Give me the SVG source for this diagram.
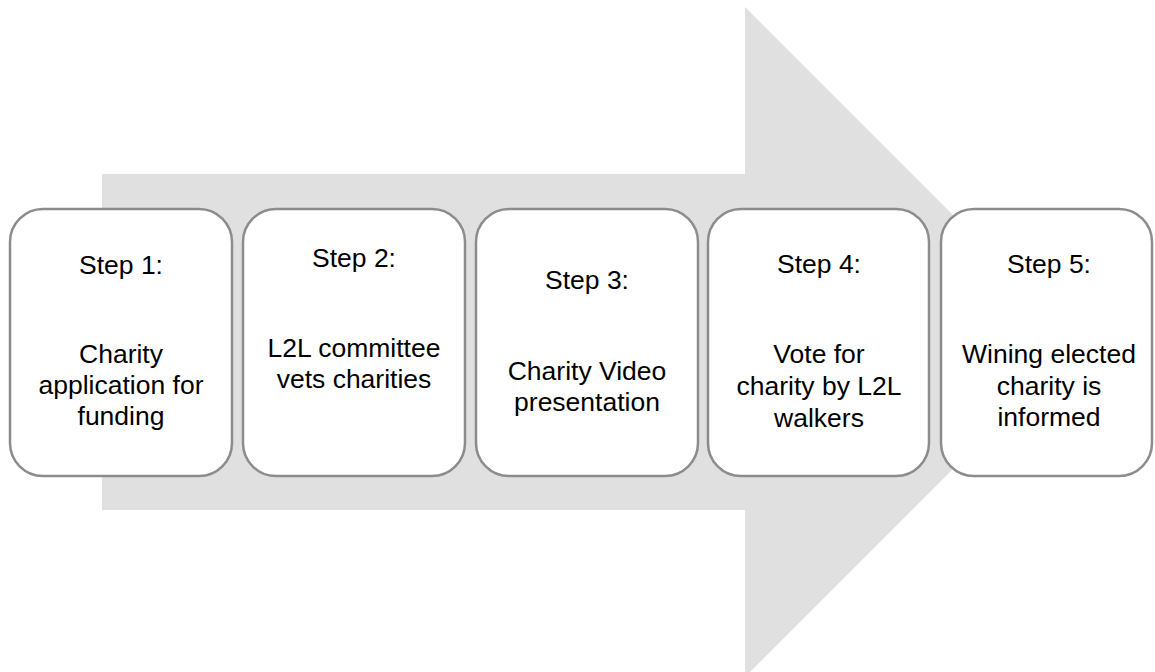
<svg xmlns="http://www.w3.org/2000/svg" width="1155" height="672" viewBox="0 0 1155 672">
<style>
.box{fill:#ffffff;stroke:#8c8c8c;stroke-width:2.5}
.t{font-family:"Liberation Sans",Arial,sans-serif;font-size:26.5px;fill:#000000;text-anchor:middle}
</style>
<rect width="1155" height="672" fill="#ffffff"/>
<g id="arrow">
<polygon points="102,174 745,174 745,7 1080,342 745,677 745,510 102,510" fill="#e0e0e0"/>
</g>
<g id="connectors"></g>
<g id="step1">
<rect class="box" x="10" y="209" width="222" height="267" rx="33" ry="33"/>
<text class="t" x="121" y="274">Step 1:</text>
<text class="t" x="121" y="363">Charity<tspan x="121" dy="31">application for</tspan><tspan x="121" dy="31">funding</tspan></text>
</g>
<g id="step2">
<rect class="box" x="243" y="209" width="222" height="267" rx="33" ry="33"/>
<text class="t" x="354" y="267">Step 2:</text>
<text class="t" x="354" y="357">L2L committee<tspan x="354" dy="31">vets charities</tspan></text>
</g>
<g id="step3">
<rect class="box" x="476" y="209" width="222" height="267" rx="33" ry="33"/>
<text class="t" x="587" y="289">Step 3:</text>
<text class="t" x="587" y="380">Charity Video<tspan x="587" dy="31">presentation</tspan></text>
</g>
<g id="step4">
<rect class="box" x="708" y="209" width="221" height="267" rx="33" ry="33"/>
<text class="t" x="819" y="273">Step 4:</text>
<text class="t" x="819" y="363">Vote for<tspan x="819" dy="32">charity by L2L</tspan><tspan x="819" dy="32">walkers</tspan></text>
</g>
<g id="step5">
<rect class="box" x="941" y="209" width="211" height="267" rx="33" ry="33"/>
<text class="t" x="1049" y="273">Step 5:</text>
<text class="t" x="1049" y="363">Wining elected<tspan x="1049" dy="32">charity is</tspan><tspan x="1049" dy="31">informed</tspan></text>
</g>
</svg>
